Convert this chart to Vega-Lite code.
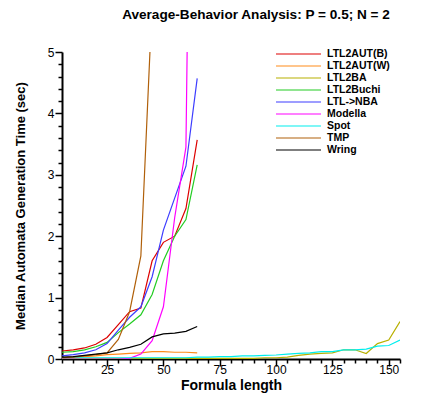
{
  "$schema": "https://vega.github.io/schema/vega-lite/v6.json",
  "width": 338,
  "height": 307,
  "autosize": "none",
  "padding": {"left": 62, "top": 52, "right": 48, "bottom": 45},
  "background": "white",
  "config": {
    "font": "Liberation Sans",
    "view": {"stroke": null}
  },
  "title": {
    "text": "Average-Behavior Analysis: P = 0.5; N = 2",
    "fontSize": 13.6,
    "fontWeight": "bold",
    "font": "Liberation Sans",
    "color": "black",
    "anchor": "middle",
    "dx": 25,
    "offset": 24
  },
  "data": {
    "values": [
      {"s": "LTL2AUT(B)", "x": 5, "y": 0.13}, {"s": "LTL2AUT(B)", "x": 10, "y": 0.15}, {"s": "LTL2AUT(B)", "x": 15, "y": 0.18}, {"s": "LTL2AUT(B)", "x": 20, "y": 0.24}, {"s": "LTL2AUT(B)", "x": 25, "y": 0.35}, {"s": "LTL2AUT(B)", "x": 30, "y": 0.56}, {"s": "LTL2AUT(B)", "x": 35, "y": 0.77}, {"s": "LTL2AUT(B)", "x": 40, "y": 0.83}, {"s": "LTL2AUT(B)", "x": 45, "y": 1.6}, {"s": "LTL2AUT(B)", "x": 50, "y": 1.9}, {"s": "LTL2AUT(B)", "x": 55, "y": 2.0}, {"s": "LTL2AUT(B)", "x": 60, "y": 2.45}, {"s": "LTL2AUT(B)", "x": 65, "y": 3.57},
      {"s": "LTL2AUT(W)", "x": 5, "y": 0.02}, {"s": "LTL2AUT(W)", "x": 10, "y": 0.03}, {"s": "LTL2AUT(W)", "x": 15, "y": 0.04}, {"s": "LTL2AUT(W)", "x": 20, "y": 0.05}, {"s": "LTL2AUT(W)", "x": 25, "y": 0.07}, {"s": "LTL2AUT(W)", "x": 30, "y": 0.08}, {"s": "LTL2AUT(W)", "x": 35, "y": 0.09}, {"s": "LTL2AUT(W)", "x": 40, "y": 0.1}, {"s": "LTL2AUT(W)", "x": 45, "y": 0.12}, {"s": "LTL2AUT(W)", "x": 50, "y": 0.12}, {"s": "LTL2AUT(W)", "x": 55, "y": 0.11}, {"s": "LTL2AUT(W)", "x": 60, "y": 0.11}, {"s": "LTL2AUT(W)", "x": 65, "y": 0.1},
      {"s": "LTL2BA", "x": 5, "y": 0.01}, {"s": "LTL2BA", "x": 10, "y": 0.01}, {"s": "LTL2BA", "x": 15, "y": 0.01}, {"s": "LTL2BA", "x": 20, "y": 0.01}, {"s": "LTL2BA", "x": 25, "y": 0.01}, {"s": "LTL2BA", "x": 30, "y": 0.01}, {"s": "LTL2BA", "x": 35, "y": 0.01}, {"s": "LTL2BA", "x": 40, "y": 0.01}, {"s": "LTL2BA", "x": 45, "y": 0.01}, {"s": "LTL2BA", "x": 50, "y": 0.01}, {"s": "LTL2BA", "x": 55, "y": 0.01}, {"s": "LTL2BA", "x": 60, "y": 0.01}, {"s": "LTL2BA", "x": 65, "y": 0.01}, {"s": "LTL2BA", "x": 70, "y": 0.01}, {"s": "LTL2BA", "x": 75, "y": 0.01}, {"s": "LTL2BA", "x": 80, "y": 0.01}, {"s": "LTL2BA", "x": 85, "y": 0.01}, {"s": "LTL2BA", "x": 90, "y": 0.01}, {"s": "LTL2BA", "x": 95, "y": 0.02}, {"s": "LTL2BA", "x": 100, "y": 0.02}, {"s": "LTL2BA", "x": 105, "y": 0.03}, {"s": "LTL2BA", "x": 110, "y": 0.06}, {"s": "LTL2BA", "x": 115, "y": 0.08}, {"s": "LTL2BA", "x": 120, "y": 0.09}, {"s": "LTL2BA", "x": 125, "y": 0.1}, {"s": "LTL2BA", "x": 130, "y": 0.15}, {"s": "LTL2BA", "x": 135, "y": 0.15}, {"s": "LTL2BA", "x": 140, "y": 0.09}, {"s": "LTL2BA", "x": 145, "y": 0.25}, {"s": "LTL2BA", "x": 150, "y": 0.31}, {"s": "LTL2BA", "x": 155, "y": 0.61},
      {"s": "LTL2Buchi", "x": 5, "y": 0.11}, {"s": "LTL2Buchi", "x": 10, "y": 0.12}, {"s": "LTL2Buchi", "x": 15, "y": 0.15}, {"s": "LTL2Buchi", "x": 20, "y": 0.2}, {"s": "LTL2Buchi", "x": 25, "y": 0.27}, {"s": "LTL2Buchi", "x": 30, "y": 0.43}, {"s": "LTL2Buchi", "x": 35, "y": 0.57}, {"s": "LTL2Buchi", "x": 40, "y": 0.72}, {"s": "LTL2Buchi", "x": 45, "y": 1.05}, {"s": "LTL2Buchi", "x": 50, "y": 1.6}, {"s": "LTL2Buchi", "x": 55, "y": 2.0}, {"s": "LTL2Buchi", "x": 60, "y": 2.27}, {"s": "LTL2Buchi", "x": 65, "y": 3.16},
      {"s": "LTL->NBA", "x": 5, "y": 0.05}, {"s": "LTL->NBA", "x": 10, "y": 0.07}, {"s": "LTL->NBA", "x": 15, "y": 0.1}, {"s": "LTL->NBA", "x": 20, "y": 0.15}, {"s": "LTL->NBA", "x": 25, "y": 0.25}, {"s": "LTL->NBA", "x": 30, "y": 0.47}, {"s": "LTL->NBA", "x": 35, "y": 0.68}, {"s": "LTL->NBA", "x": 40, "y": 0.85}, {"s": "LTL->NBA", "x": 45, "y": 1.34}, {"s": "LTL->NBA", "x": 50, "y": 2.1}, {"s": "LTL->NBA", "x": 55, "y": 2.62}, {"s": "LTL->NBA", "x": 60, "y": 3.14}, {"s": "LTL->NBA", "x": 65, "y": 4.57},
      {"s": "Modella", "x": 5, "y": 0.0}, {"s": "Modella", "x": 10, "y": 0.0}, {"s": "Modella", "x": 15, "y": 0.0}, {"s": "Modella", "x": 20, "y": 0.0}, {"s": "Modella", "x": 25, "y": 0.0}, {"s": "Modella", "x": 30, "y": 0.0}, {"s": "Modella", "x": 35, "y": 0.01}, {"s": "Modella", "x": 40, "y": 0.08}, {"s": "Modella", "x": 45, "y": 0.3}, {"s": "Modella", "x": 50, "y": 0.85}, {"s": "Modella", "x": 55, "y": 2.3}, {"s": "Modella", "x": 60, "y": 3.45}, {"s": "Modella", "x": 65, "y": 18},
      {"s": "Spot", "x": 5, "y": 0.02}, {"s": "Spot", "x": 10, "y": 0.02}, {"s": "Spot", "x": 15, "y": 0.02}, {"s": "Spot", "x": 20, "y": 0.02}, {"s": "Spot", "x": 25, "y": 0.02}, {"s": "Spot", "x": 30, "y": 0.02}, {"s": "Spot", "x": 35, "y": 0.02}, {"s": "Spot", "x": 40, "y": 0.02}, {"s": "Spot", "x": 45, "y": 0.02}, {"s": "Spot", "x": 50, "y": 0.02}, {"s": "Spot", "x": 55, "y": 0.02}, {"s": "Spot", "x": 60, "y": 0.02}, {"s": "Spot", "x": 65, "y": 0.03}, {"s": "Spot", "x": 70, "y": 0.03}, {"s": "Spot", "x": 75, "y": 0.04}, {"s": "Spot", "x": 80, "y": 0.04}, {"s": "Spot", "x": 85, "y": 0.05}, {"s": "Spot", "x": 90, "y": 0.05}, {"s": "Spot", "x": 95, "y": 0.06}, {"s": "Spot", "x": 100, "y": 0.065}, {"s": "Spot", "x": 105, "y": 0.08}, {"s": "Spot", "x": 110, "y": 0.09}, {"s": "Spot", "x": 115, "y": 0.1}, {"s": "Spot", "x": 120, "y": 0.12}, {"s": "Spot", "x": 125, "y": 0.12}, {"s": "Spot", "x": 130, "y": 0.15}, {"s": "Spot", "x": 135, "y": 0.15}, {"s": "Spot", "x": 140, "y": 0.16}, {"s": "Spot", "x": 145, "y": 0.21}, {"s": "Spot", "x": 150, "y": 0.22}, {"s": "Spot", "x": 155, "y": 0.31},
      {"s": "TMP", "x": 5, "y": 0.02}, {"s": "TMP", "x": 10, "y": 0.03}, {"s": "TMP", "x": 15, "y": 0.05}, {"s": "TMP", "x": 20, "y": 0.07}, {"s": "TMP", "x": 25, "y": 0.1}, {"s": "TMP", "x": 30, "y": 0.32}, {"s": "TMP", "x": 35, "y": 0.77}, {"s": "TMP", "x": 40, "y": 1.68}, {"s": "TMP", "x": 45, "y": 5.8},
      {"s": "Wring", "x": 5, "y": 0.03}, {"s": "Wring", "x": 10, "y": 0.04}, {"s": "Wring", "x": 15, "y": 0.06}, {"s": "Wring", "x": 20, "y": 0.08}, {"s": "Wring", "x": 25, "y": 0.1}, {"s": "Wring", "x": 30, "y": 0.15}, {"s": "Wring", "x": 35, "y": 0.19}, {"s": "Wring", "x": 40, "y": 0.24}, {"s": "Wring", "x": 45, "y": 0.36}, {"s": "Wring", "x": 50, "y": 0.41}, {"s": "Wring", "x": 55, "y": 0.42}, {"s": "Wring", "x": 60, "y": 0.45}, {"s": "Wring", "x": 65, "y": 0.53}
    ]
  },
  "mark": {"type": "line", "clip": true, "strokeWidth": 1.2},
  "encoding": {
    "x": {
      "field": "x", "type": "quantitative",
      "scale": {"domain": [5, 155], "nice": false, "zero": false},
      "axis": {
        "title": "Formula length",
        "titleFontSize": 14, "titleFontWeight": "bold", "titleColor": "black", "titlePadding": 3,
        "values": [5,10,15,20,25,30,35,40,45,50,55,60,65,70,75,80,85,90,95,100,105,110,115,120,125,130,135,140,145,150,155],
        "labelExpr": "datum.value % 25 === 0 ? format(datum.value, 'd') : ''",
        "ticks": true,
        "tickSize": {"condition": {"test": "datum.value % 25 === 0", "value": 7}, "value": 4},
        "tickColor": "black", "tickWidth": 1.5,
        "domainColor": "black", "domainWidth": 2,
        "labelColor": "black", "labelFontSize": 12, "labelPadding": -2,
        "labelFlush": false, "labelOverlap": false,
        "grid": false
      }
    },
    "y": {
      "field": "y", "type": "quantitative",
      "scale": {"domain": [0, 5], "nice": false},
      "axis": {
        "title": "Median Automata Generation Time (sec)",
        "titleFontSize": 13, "titleFontWeight": "bold", "titleColor": "black", "titlePadding": 20,
        "values": [0,0.2,0.4,0.6,0.8,1,1.2,1.4,1.6,1.8,2,2.2,2.4,2.6,2.8,3,3.2,3.4,3.6,3.8,4,4.2,4.4,4.6,4.8,5],
        "labelExpr": "abs(datum.value - round(datum.value)) < 0.001 ? format(datum.value, 'd') : ''",
        "ticks": true,
        "tickSize": {"condition": {"test": "abs(datum.value - round(datum.value)) < 0.001", "value": 7}, "value": 4},
        "tickColor": "black", "tickWidth": 1.5,
        "domainColor": "black", "domainWidth": 2,
        "labelColor": "black", "labelFontSize": 12, "labelPadding": 1,
        "labelFlush": false, "labelOverlap": false,
        "grid": false
      }
    },
    "color": {
      "field": "s", "type": "nominal",
      "scale": {
        "domain": ["LTL2AUT(B)", "LTL2AUT(W)", "LTL2BA", "LTL2Buchi", "LTL->NBA", "Modella", "Spot", "TMP", "Wring"],
        "range": ["#dd0000", "#ff8c1a", "#b8b000", "#22cc22", "#3d3dff", "#ff00ff", "#00eeee", "#b0600a", "#000000"]
      },
      "legend": {
        "title": null,
        "orient": "none",
        "legendX": 213,
        "legendY": -4,
        "padding": 0,
        "symbolType": "stroke",
        "symbolSize": 2025,
        "symbolStrokeWidth": 1.2,
        "clipHeight": 12,
        "rowPadding": 0,
        "labelOffset": 5,
        "labelFontSize": 10.5,
        "labelFontWeight": "bold",
        "labelColor": "black",
        "labelFont": "Liberation Sans"
      }
    }
  }
}
